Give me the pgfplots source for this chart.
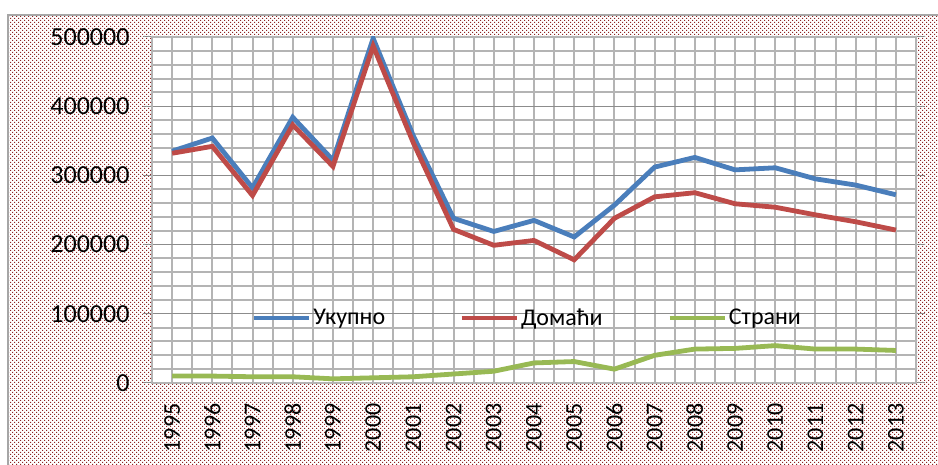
\documentclass[border=0pt]{standalone}
\usepackage{fontspec}
\setmainfont{Carlito}
\usepackage{pgfplots}
\usepackage{pgfplotstable}
\pgfplotsset{compat=1.18}
\usetikzlibrary{patterns}
\definecolor{cblue}{HTML}{4A7EBB}
\definecolor{cred}{HTML}{BE4B48}
\definecolor{cgreen}{HTML}{98B954}
\definecolor{dotred}{HTML}{8E2323}
\definecolor{gridlight}{HTML}{B4B4B4}
\definecolor{griddark}{HTML}{8C8C8C}
\pgfdeclarepatternformonly{mydots}{\pgfqpoint{-1pt}{-1pt}}{\pgfqpoint{5pt}{5pt}}{\pgfqpoint{4pt}{4pt}}{%
  \pgfpathrectangle{\pgfqpoint{0pt}{0pt}}{\pgfqpoint{1.1pt}{1.1pt}}%
  \pgfpathrectangle{\pgfqpoint{2pt}{2pt}}{\pgfqpoint{1.1pt}{1.1pt}}%
  \pgfusepath{fill}}
\pgfplotstableread{
x ukupno domaci strani
0 335000 332000 10000
1 354000 342000 10000
2 282000 271000 9000
3 384000 373000 9000
4 322000 313000 6000
5 498000 487000 7500
6 357000 347000 9000
7 238000 222000 13000
8 219000 199000 17000
9 235000 206000 29000
10 211000 178000 31000
11 257000 238000 20000
12 312000 269000 40000
13 326000 275000 49000
14 308000 259000 50000
15 311000 254000 54000
16 295000 243000 49000
17 286000 233000 49000
18 272000 221000 47000
}\datatable
\begin{document}
\begin{tikzpicture}[x=1pt,y=1pt]
\useasboundingbox (0,0) rectangle (938,465);
\fill[white] (0,0) rectangle (938,465);
\fill[pattern=mydots, pattern color=dotred] (8,0) rectangle (938,450);
\draw[gray!70, line width=1.5pt] (8,0) -- (8,450) -- (938,450);
\begin{axis}[
  at={(152pt,82pt)}, anchor=south west,
  scale only axis, width=764pt, height=346pt,
  xmin=-0.5, xmax=18.5, ymin=0, ymax=500000,
  xtick={0,...,18},
  xticklabels={1995,1996,1997,1998,1999,2000,2001,2002,2003,2004,2005,2006,2007,2008,2009,2010,2011,2012,2013},
  ytick={0,100000,200000,300000,400000,500000},
  minor x tick num=1, minor y tick num=4,
  scaled y ticks=false,
  yticklabel style={/pgf/number format/fixed, /pgf/number format/1000 sep={}, font=\fontsize{26}{30}\selectfont},
  yticklabel shift=10pt,
  /pgf/number format/assume math mode=true,
  xticklabel style={rotate=90, anchor=east, font=\fontsize{24}{28}\selectfont},
  xticklabel shift=8pt,
  axis background/.style={fill=white},
  grid=both,
  minor grid style={gridlight, line width=2pt},
  major x grid style={gridlight, line width=2pt},
  major y grid style={griddark, line width=1pt},
  axis line style={gridlight, line width=1.5pt},
  tick align=outside, major tick length=9pt, minor tick length=0pt,
  ytick style={griddark, line width=1pt},
  xtick style={draw=none},
  legend columns=3,
  legend style={at={(0.13,0.188)}, anchor=west, draw=none, fill=none,
    font=\fontsize{24}{28}\selectfont, inner sep=0pt,
    /tikz/every even column/.append style={column sep=0pt}},
  legend image code/.code={\draw[#1] (0pt,0pt) -- (55pt,0pt);},
]
\addplot[cblue, line width=4.8pt] table[x=x, y=ukupno] {\datatable};
\addlegendentry{\makebox[144pt][l]{Укупно}}
\addplot[cred, line width=4.8pt] table[x=x, y=domaci] {\datatable};
\addlegendentry{\makebox[144pt][l]{Домаћи}}
\addplot[cgreen, line width=4.8pt] table[x=x, y=strani] {\datatable};
\addlegendentry{\makebox[100pt][l]{Страни}}
\end{axis}
\end{tikzpicture}
\end{document}
